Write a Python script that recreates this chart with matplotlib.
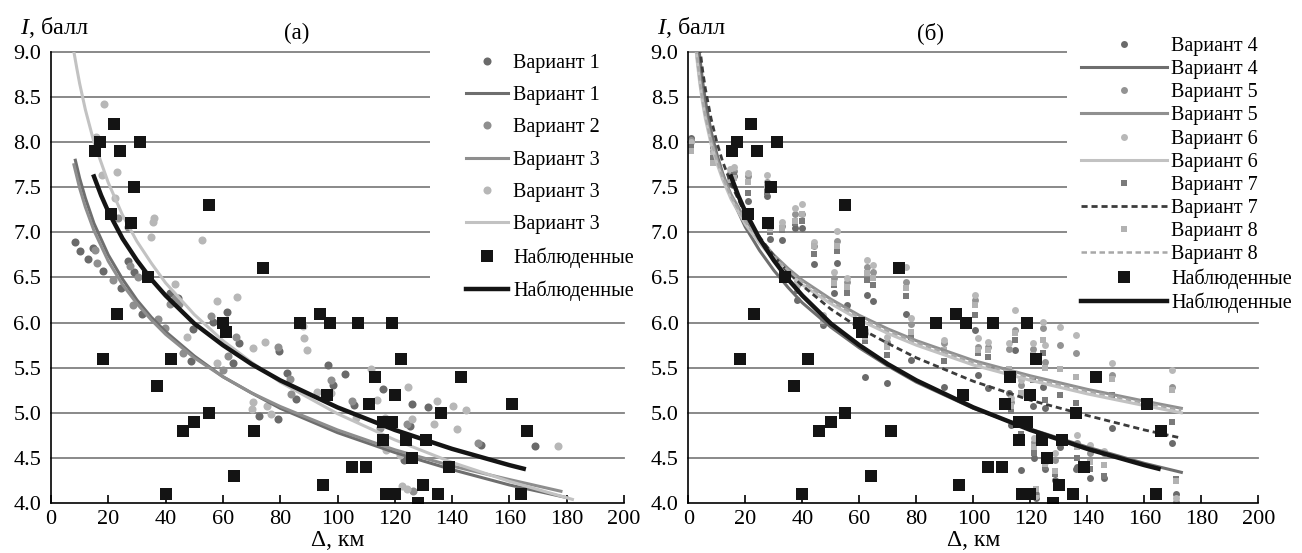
import matplotlib
matplotlib.use('Agg')
import matplotlib.pyplot as plt
from matplotlib.patches import Rectangle

plt.rcParams['font.family'] = ['Liberation Serif', 'DejaVu Serif']
plt.rcParams['mathtext.fontset'] = 'custom'
plt.rcParams['mathtext.it'] = 'Liberation Serif:italic'
plt.rcParams['mathtext.rm'] = 'Liberation Serif'

# ---------------- data ----------------
x_ticks = [0, 20, 40, 60, 80, 100, 120, 140, 160, 180, 200]
y_ticks = [4.0, 4.5, 5.0, 5.5, 6.0, 6.5, 7.0, 7.5, 8.0, 8.5, 9.0]
y_tick_labels = ['4.0', '4.5', '5.0', '5.5', '6.0', '6.5', '7.0', '7.5', '8.0', '8.5', '9.0']

# observed intensities (same in both panels)
obs_dist = [15.5, 17, 22, 24, 31, 29, 21, 28, 55, 74, 34, 23, 18, 42, 37, 55, 50, 46, 71, 64,
            40, 60, 61, 87, 94, 97.5, 95, 96.5, 107, 119, 122, 143, 113, 120, 111, 161, 136, 116, 119, 166,
            116, 124, 131, 126, 139, 105, 110, 130, 117, 120, 135, 164, 128]
obs_I = [7.9, 8.0, 8.2, 7.9, 8.0, 7.5, 7.2, 7.1, 7.3, 6.6, 6.5, 6.1, 5.6, 5.6, 5.3, 5.0, 4.9, 4.8, 4.8, 4.3,
         4.1, 6.0, 5.9, 6.0, 6.1, 6.0, 4.2, 5.2, 6.0, 6.0, 5.6, 5.4, 5.4, 5.2, 5.1, 5.1, 5.0, 4.9, 4.9, 4.8,
         4.7, 4.7, 4.7, 4.5, 4.4, 4.4, 4.4, 4.2, 4.1, 4.1, 4.1, 4.1, 4.0]

# panel (a) computed points
v1_dist = [8.4, 10.1, 12.8, 14.8, 18.3, 24.4, 27, 29, 31.7, 41.5, 44.4, 49.7, 48.7, 56.7, 61.3, 65.7, 63.6,
           79.7, 82.3, 85.5, 72.7, 79.1, 96.8, 98.5, 102.6, 105.8, 116, 125.9, 125.3, 131.5, 150, 168.9, 123.2]
v1_I = [6.89, 6.79, 6.71, 6.83, 6.57, 6.38, 6.68, 6.56, 6.10, 6.33, 6.27, 5.93, 5.57, 6.01, 6.12, 5.77, 5.55,
        5.68, 5.44, 5.15, 4.96, 4.93, 5.53, 5.31, 5.43, 5.09, 5.26, 5.10, 4.85, 5.06, 4.64, 4.63, 4.48]
v2_dist = [15.4, 15.9, 21.7, 27.6, 28.7, 30.3, 23.3, 27, 43.3, 41.5, 44.8, 37.2, 39.8, 46, 55.7, 64.6, 61.9,
           60.1, 79.1, 83.4, 83.8, 97.6, 105, 114.8, 124.4, 149.1, 126.5]
v2_I = [6.80, 6.66, 6.47, 6.63, 6.20, 6.50, 7.16, 7.06, 6.27, 6.21, 6.21, 6.04, 5.94, 5.66, 6.07, 5.84, 5.63,
        5.47, 5.73, 5.38, 5.21, 5.36, 5.13, 4.83, 4.88, 4.67, 4.13]
v3_dist = [18.5, 15.7, 17.9, 23.1, 22.3, 36, 35.5, 34.9, 52.6, 43.3, 47.4, 58, 64.8, 70.4, 74.7, 58, 88, 88.4,
           89.2, 70.4, 70, 75.3, 76.7, 92.7, 97.6, 111.6, 106.5, 113.9, 116.6, 117.8, 124.7, 125.9, 134.6,
           133.7, 140.2, 144.9, 141.8, 177.1, 116.9, 121.8, 122.4, 124.1, 136.7]
v3_I = [8.42, 8.06, 7.64, 7.67, 7.38, 7.16, 7.11, 6.95, 6.92, 6.43, 5.84, 6.24, 6.28, 5.72, 5.78, 5.55, 5.96, 5.83,
        5.70, 5.12, 5.04, 5.08, 4.99, 5.23, 5.22, 5.49, 4.94, 5.14, 4.94, 4.90, 5.29, 4.93, 5.13,
        4.88, 5.08, 5.03, 4.82, 4.63, 4.59, 4.53, 4.19, 4.16, 5.00]

# panel (a) trend curves
obs_curve_x = [15, 17.5, 20, 25, 30, 35, 40, 50, 60, 70, 80, 100, 120, 140, 160, 165]
obs_curve_I = [7.62, 7.41, 7.23, 6.93, 6.69, 6.48, 6.30, 5.99, 5.75, 5.54, 5.36, 5.06, 4.81, 4.60, 4.42, 4.38]
a_v1_curve_x = [8.5, 10, 12, 15, 20, 25, 30, 35, 40, 50, 60, 70, 80, 100, 120, 140, 160, 180]
a_v1_curve_I = [7.80, 7.60, 7.38, 7.10, 6.75, 6.48, 6.25, 6.06, 5.90, 5.63, 5.40, 5.22, 5.05, 4.78, 4.56, 4.37, 4.20, 4.06]
a_v3m_curve_x = [8, 10, 12, 15, 20, 25, 30, 35, 40, 50, 60, 70, 80, 100, 120, 140, 160, 178]
a_v3m_curve_I = [7.75, 7.49, 7.28, 7.02, 6.68, 6.42, 6.21, 6.03, 5.87, 5.61, 5.40, 5.22, 5.07, 4.81, 4.59, 4.41, 4.26, 4.13]
a_v3l_curve_x = [8, 9, 10, 12, 15, 20, 25, 30, 35, 40, 50, 60, 70, 80, 100, 120, 140, 160, 182]
a_v3l_curve_I = [9.00, 8.82, 8.65, 8.36, 8.00, 7.55, 7.19, 6.90, 6.66, 6.44, 6.09, 5.80, 5.56, 5.34, 4.99, 4.70, 4.45, 4.24, 4.04]

# panel (б) computed points at stations
st_dist = [1.0, 8.5, 14.5, 16.0, 21.0, 27.5, 28.5, 32.8, 37.4, 38.0, 40.0, 44.0, 47.4, 51.0, 52.1, 55.6,
           62.0, 62.6, 64.9, 69.6, 76.5, 78.0, 89.6, 100.5, 101.5, 105.0, 112.6, 113.2, 114.6, 116.6,
           120.8, 121.2, 122.0, 124.6, 125.0, 125.3, 128.5, 130.4, 136.0, 136.5, 141.0, 146.0, 148.6,
           169.6, 171.0]
v4_I = [8.05, 7.95, 7.55, 7.62, 7.35, 7.40, 6.93, 6.92, 7.05, 6.25, 7.05, 6.65, 5.97, 6.33, 6.66, 6.20,
        5.40, 6.31, 6.24, 5.33, 6.10, 5.59, 5.29, 5.92, 5.42, 5.27, 5.22, 4.86, 5.70, 4.37,
        5.07, 4.50, 4.05, 5.29, 4.38, 5.05, 4.25, 4.62, 4.38, 4.40, 4.28, 4.28, 4.83,
        4.66, 4.10]
v5_I = [8.02, 7.90, 7.66, 7.68, 7.62, 7.56, 7.06, 7.07, 7.20, 6.42, 7.20, 6.85, 6.05, 6.49, 6.91, 6.45,
        5.88, 6.62, 6.56, 5.79, 6.45, 5.99, 5.77, 6.25, 5.73, 5.73, 5.71, 5.12, 5.92, 5.31,
        5.71, 4.68, 4.10, 5.94, 4.45, 5.56, 4.48, 5.75, 5.66, 4.66, 4.55, 4.55, 5.42,
        5.29, 4.01]
v6_I = [8.00, 7.88, 7.70, 7.72, 7.66, 7.64, 7.11, 7.11, 7.27, 6.46, 7.31, 6.89, 6.08, 6.56, 7.02, 6.49,
        5.92, 6.69, 6.64, 5.84, 6.62, 6.05, 5.81, 6.31, 5.83, 5.79, 5.77, 5.16, 6.14, 5.36,
        5.77, 4.72, 4.08, 6.01, 4.51, 5.75, 4.55, 5.95, 5.86, 4.75, 4.64, 4.58, 5.55,
        5.47, 4.05]
v7_I = [7.95, 7.82, 7.60, 7.64, 7.44, 7.45, 7.00, 7.03, 7.10, 6.35, 7.13, 6.76, 6.00, 6.42, 6.79, 6.33,
        5.80, 6.47, 6.42, 5.64, 6.29, 5.84, 5.57, 6.08, 5.66, 5.62, 5.44, 5.02, 5.81, 4.77,
        5.36, 4.55, 4.12, 5.66, 4.40, 5.14, 4.32, 5.20, 5.11, 4.50, 4.38, 4.30, 5.20,
        4.90, 4.27]
v8_I = [7.90, 7.77, 7.58, 7.60, 7.56, 7.51, 7.04, 7.05, 7.13, 6.38, 7.20, 6.85, 6.02, 6.44, 6.85, 6.40,
        5.84, 6.55, 6.49, 5.73, 6.38, 5.90, 5.70, 6.19, 5.70, 5.70, 5.49, 5.08, 5.88, 5.22,
        5.64, 4.62, 4.15, 5.81, 4.43, 5.50, 4.36, 5.49, 5.40, 4.62, 4.45, 4.42, 5.38,
        5.25, 4.24]

# panel (б) trend curves
b_v4_curve_x = [3, 4, 5, 6, 8, 10, 12, 15, 20, 25, 30, 35, 40, 50, 60, 70, 80, 100, 120, 140, 160, 173]
b_v4_curve_I = [9.30, 8.95, 8.68, 8.46, 8.12, 7.87, 7.66, 7.40, 7.06, 6.80, 6.58, 6.39, 6.22, 5.95, 5.72,
                5.52, 5.34, 5.05, 4.82, 4.62, 4.44, 4.34]
b_v56_curve_x = [2.5, 3, 4, 5, 6, 8, 10, 12, 15, 20, 25, 30, 35, 40, 50, 60, 70, 80, 100, 120, 140, 160, 173]
b_v5_curve_I = [9.16, 8.98, 8.71, 8.49, 8.31, 8.03, 7.82, 7.64, 7.42, 7.14, 6.93, 6.75, 6.60, 6.47, 6.26,
                6.08, 5.93, 5.80, 5.58, 5.41, 5.26, 5.13, 5.05]
b_v6_curve_I = [9.11, 8.93, 8.66, 8.44, 8.26, 7.98, 7.77, 7.59, 7.37, 7.09, 6.88, 6.70, 6.55, 6.42, 6.21,
                6.03, 5.88, 5.75, 5.53, 5.36, 5.21, 5.08, 5.00]
b_v8_curve_I = [9.14, 8.96, 8.69, 8.47, 8.29, 8.01, 7.80, 7.62, 7.40, 7.12, 6.91, 6.73, 6.58, 6.45, 6.24,
                6.06, 5.91, 5.78, 5.56, 5.39, 5.24, 5.11, 5.03]
b_v7_curve_x = [3, 4, 5, 6, 8, 10, 12, 15, 20, 25, 30, 35, 40, 50, 60, 70, 80, 100, 120, 140, 160, 173]
b_v7_curve_I = [9.39, 9.06, 8.80, 8.59, 8.26, 8.00, 7.79, 7.54, 7.20, 6.95, 6.74, 6.56, 6.41, 6.15, 5.94,
                5.77, 5.61, 5.35, 5.14, 4.97, 4.81, 4.72]

labels_a = ['Вариант 1', 'Вариант 1', 'Вариант 2', 'Вариант 3', 'Вариант 3', 'Вариант 3',
            'Наблюденные', 'Наблюденные']
labels_b = ['Вариант 4', 'Вариант 4', 'Вариант 5', 'Вариант 5', 'Вариант 6', 'Вариант 6',
            'Вариант 7', 'Вариант 7', 'Вариант 8', 'Вариант 8', 'Наблюденные', 'Наблюденные']

# ---------------- figure ----------------
W, H = 1302, 553
fig = plt.figure(figsize=(W / 100, H / 100), dpi=100)


def px_rect(l, r, t, b):
    return [l / W, 1 - b / H, (r - l) / W, (b - t) / H]


axA = fig.add_axes(px_rect(51, 624, 52, 503))
axB = fig.add_axes(px_rect(688.3, 1258.3, 52, 503))

GRID = '#808080'
for ax in (axA, axB):
    ax.set_xlim(0, 200)
    ax.set_ylim(4, 9)
    ax.set_xticks(x_ticks)
    ax.set_yticks(y_ticks)
    ax.set_yticklabels(y_tick_labels)
    for s in ('top', 'right'):
        ax.spines[s].set_visible(False)
    for s in ('left', 'bottom'):
        ax.spines[s].set_linewidth(1.2)
        ax.spines[s].set_color('black')
        ax.spines[s].set_zorder(5)
    ax.tick_params(axis='x', direction='in', length=6, width=1.2, pad=5, labelsize=16)
    ax.tick_params(axis='y', length=0, pad=7, labelsize=16)
    for yv in y_ticks[1:]:
        ax.axhline(yv, color=GRID, lw=1.3, zorder=0.5, clip_on=False)

# white areas behind legends (cover the grid lines)
axA.add_patch(Rectangle((132.3, 6.22), 75, 3.2, facecolor='white', edgecolor='none',
                        zorder=0.8, clip_on=False))
axB.add_patch(Rectangle((132.8, 6.22), 75, 3.2, facecolor='white', edgecolor='none',
                        zorder=0.8, clip_on=False))

# ----- panel (a) -----
hA = []
hA += axA.plot(v1_dist, v1_I, 'o', color='#6a6a6a', ms=5.8, mew=0, zorder=2)
hA += axA.plot(a_v1_curve_x, a_v1_curve_I, '-', color='#6e6e6e', lw=2.2, zorder=3)
hA += axA.plot(v2_dist, v2_I, 'o', color='#8f8f8f', ms=5.8, mew=0, zorder=2)
hA += axA.plot(a_v3m_curve_x, a_v3m_curve_I, '-', color='#8e8e8e', lw=2.2, zorder=3)
hA += axA.plot(v3_dist, v3_I, 'o', color='#b7b7b7', ms=5.8, mew=0, zorder=2)
hA += axA.plot(a_v3l_curve_x, a_v3l_curve_I, '-', color='#c2c2c2', lw=2.2, zorder=3)
hA += axA.plot(obs_dist, obs_I, 's', color='#141414', ms=8.2, mew=0, zorder=4)
hA += axA.plot(obs_curve_x, obs_curve_I, '-', color='#141414', lw=3.2, zorder=4)

axA.legend(hA, labels_a, loc='upper left', bbox_to_anchor=(466 / W, 1 - 54 / H),
           bbox_transform=fig.transFigure, frameon=False, fontsize=14.5, numpoints=1,
           handlelength=2.1, handletextpad=0.25, labelspacing=0.65, borderpad=0, borderaxespad=0)

# ----- panel (б) -----
hB = []
hB += axB.plot(st_dist, v4_I, 'o', color='#6a6a6a', ms=5.0, mew=0, zorder=2)
hB += axB.plot(b_v4_curve_x, b_v4_curve_I, '-', color='#6e6e6e', lw=2.2, zorder=3)
hB += axB.plot(st_dist, v5_I, 'o', color='#939393', ms=5.0, mew=0, zorder=2)
hB += axB.plot(b_v56_curve_x, b_v5_curve_I, '-', color='#909090', lw=2.2, zorder=3)
hB += axB.plot(st_dist, v6_I, 'o', color='#b8b8b8', ms=5.0, mew=0, zorder=2)
hB += axB.plot(b_v56_curve_x, b_v6_curve_I, '-', color='#c2c2c2', lw=2.2, zorder=3)
hB += axB.plot(st_dist, v7_I, 's', color='#7a7a7a', ms=5.0, mew=0, zorder=2)
hB += axB.plot(b_v7_curve_x, b_v7_curve_I, '--', color='#3c3c3c', lw=2.0, dashes=(2.2, 1.4), zorder=3)
hB += axB.plot(st_dist, v8_I, 's', color='#b2b2b2', ms=5.0, mew=0, zorder=2)
hB += axB.plot(b_v56_curve_x, b_v8_curve_I, '--', color='#a8a8a8', lw=1.8, dashes=(2.2, 1.4), zorder=3)
hB += axB.plot(obs_dist, obs_I, 's', color='#141414', ms=8.0, mew=0, zorder=4)
hB += axB.plot(obs_curve_x, obs_curve_I, '-', color='#141414', lw=3.2, zorder=4)

axB.legend(hB, labels_b, loc='upper left', bbox_to_anchor=(1080.7 / W, 1 - 37 / H),
           bbox_transform=fig.transFigure, frameon=False, fontsize=14.5, numpoints=1,
           handlelength=4.3, handletextpad=0.2, labelspacing=0.2, borderpad=0, borderaxespad=0)

# ----- texts -----
fig.text(20 / W, 1 - 27 / H, r'$\mathit{I}$, балл', fontsize=17.5, ha='left', va='center')
fig.text(657 / W, 1 - 27 / H, r'$\mathit{I}$, балл', fontsize=17.5, ha='left', va='center')
fig.text(297 / W, 1 - 33 / H, '(а)', fontsize=16.5, ha='center', va='center')
fig.text(930 / W, 1 - 33 / H, '(б)', fontsize=16.5, ha='center', va='center')
fig.text(337.5 / W, 1 - 541 / H, 'Δ, км', fontsize=17, ha='center', va='center')
fig.text(973.3 / W, 1 - 541 / H, 'Δ, км', fontsize=17, ha='center', va='center')

fig.savefig('out.png', dpi=100)
